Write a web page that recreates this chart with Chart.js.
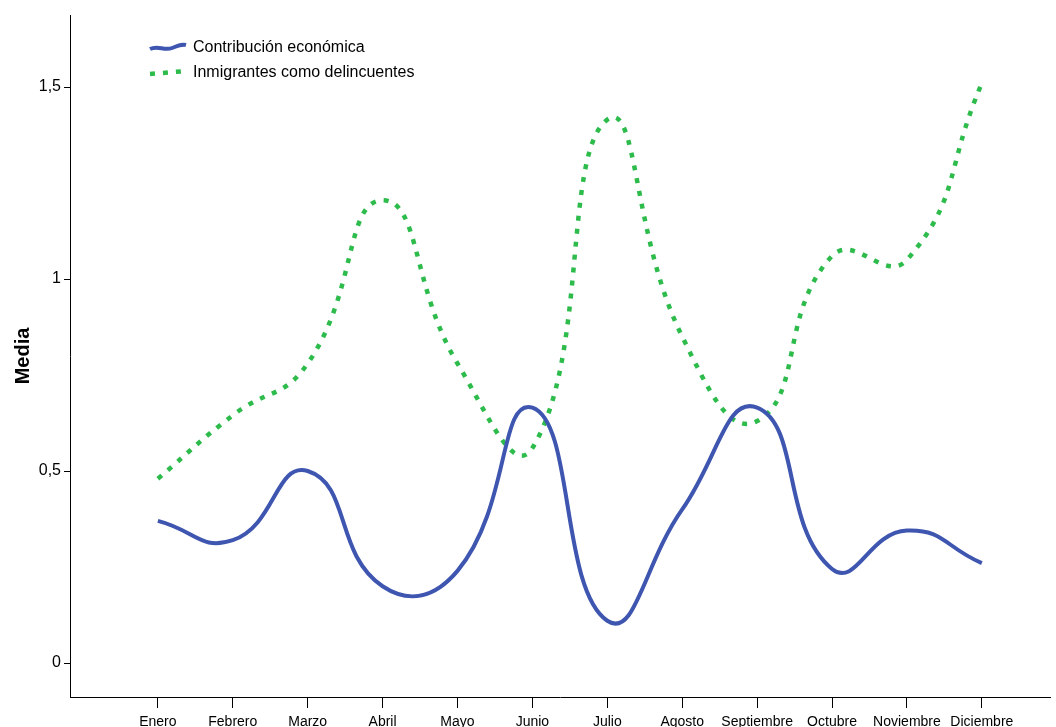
<!DOCTYPE html>
<html>
<head>
<meta charset="utf-8">
<script src="https://cdn.jsdelivr.net/npm/chart.js@4.4.1/dist/chart.umd.min.js"></script>
<style>
    html, body { margin: 0; padding: 0; background: #fff; }
    #wrap { position: relative; width: 1056px; height: 727px; overflow: hidden; }
    #legend { position: absolute; left: 148px; top: 34px; font-family: "Liberation Sans", Arial, sans-serif; font-size: 16px; color: #000; }
    #legend div { height: 25px; display: flex; align-items: center; }
    #legend svg { width: 40px; height: 14px; margin-right: 5px; }
</style>
</head>
<body>
<div id="wrap">
    <canvas id="chart" width="1056" height="727"></canvas>
    <div id="legend">
        <div><svg viewBox="0 0 40 14"><path d="M2 9 C 10 5, 16 11, 24 8 S 34 4, 38 5" fill="none" stroke="#3E56B0" stroke-width="4"/></svg>Contribución económica</div>
        <div><svg viewBox="0 0 40 14"><path d="M2 9 L 38 6" fill="none" stroke="#2DBB4B" stroke-width="4.5" stroke-dasharray="5 8"/></svg>Inmigrantes como delincuentes</div>
    </div>
</div>
<script>
var months = ['Enero', 'Febrero', 'Marzo', 'Abril', 'Mayo', 'Junio', 'Julio', 'Agosto', 'Septiembre', 'Octubre', 'Noviembre', 'Diciembre'];
var contribucion = [0.37, 0.32, 0.50, 0.20, 0.24, 0.665, 0.11, 0.40, 0.665, 0.245, 0.345, 0.26];
var delincuentes = [0.48, 0.645, 0.78, 1.205, 0.78, 0.56, 1.415, 0.85, 0.63, 1.06, 1.05, 1.51];
var yTicks = [0, 0.5, 1, 1.5];

function points(values) {
    return values.map(function (v, i) { return { x: i, y: v }; });
}

var font = "'Liberation Sans', Arial, sans-serif";

new Chart(document.getElementById('chart'), {
    type: 'line',
    data: {
        datasets: [
            {
                label: 'Contribución económica',
                data: points(contribucion),
                borderColor: '#3E56B0',
                borderWidth: 4,
                tension: 0.5,
                pointRadius: 0
            },
            {
                label: 'Inmigrantes como delincuentes',
                data: points(delincuentes),
                borderColor: '#2DBB4B',
                borderWidth: 4.5,
                borderDash: [5, 8],
                tension: 0.5,
                pointRadius: 0
            }
        ]
    },
    options: {
        responsive: false,
        animation: false,
        layout: { padding: { top: 15, right: 6, left: 0, bottom: 0 } },
        plugins: {
            legend: { display: false },
            tooltip: { enabled: false }
        },
        scales: {
            x: {
                type: 'linear',
                min: -1.173,
                max: 11.91,
                afterBuildTicks: function (scale) {
                    scale.ticks = months.map(function (m, i) { return { value: i }; });
                },
                afterFit: function (scale) { scale.height = 30; },
                ticks: {
                    autoSkip: false,
                    maxRotation: 0,
                    padding: 6,
                    color: '#000',
                    font: { family: font, size: 14 },
                    callback: function (v) { return months[v]; }
                },
                grid: { drawOnChartArea: false, drawTicks: true, tickLength: 11, color: '#000' },
                border: { display: true, color: '#000', width: 1 }
            },
            y: {
                min: -0.0885,
                max: 1.6875,
                afterBuildTicks: function (scale) {
                    scale.ticks = yTicks.map(function (v) { return { value: v }; });
                },
                afterFit: function (scale) { scale.width = 70; },
                ticks: {
                    padding: 3,
                    color: '#000',
                    font: { family: font, size: 16 },
                    callback: function (v) { return String(v).replace('.', ','); }
                },
                grid: { drawOnChartArea: false, drawTicks: true, tickLength: 6, color: '#000' },
                border: { display: true, color: '#000', width: 1 },
                title: {
                    display: true,
                    text: 'Media',
                    color: '#000',
                    padding: { top: 11, bottom: 0 },
                    font: { family: font, size: 20, weight: 'bold' }
                }
            }
        }
    }
});
</script>
</body>
</html>
